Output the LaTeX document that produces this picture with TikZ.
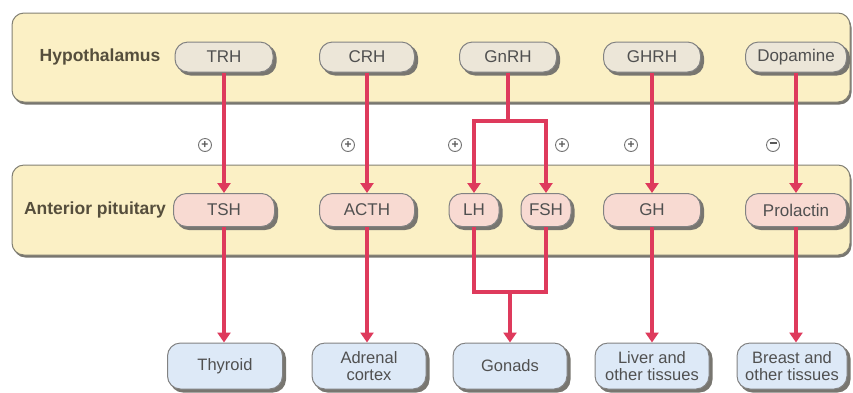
\documentclass[tikz,border=0pt]{standalone}
\usepackage{fontspec}
\setmainfont{Liberation Sans}
\usetikzlibrary{arrows.meta,calc}
\definecolor{bandfill}{RGB}{251,240,197}
\definecolor{bandline}{RGB}{130,128,115}
\definecolor{hypfill}{RGB}{236,230,216}
\definecolor{pitfill}{RGB}{248,218,210}
\definecolor{tgtfill}{RGB}{221,233,247}
\definecolor{boxline}{RGB}{130,130,130}
\definecolor{txt}{RGB}{80,80,80}
\definecolor{lbl}{RGB}{85,78,60}
\definecolor{arrowred}{RGB}{222,58,92}
\definecolor{shadowc}{RGB}{120,118,112}
\pgfdeclarelayer{bandlayer}
\pgfdeclarelayer{shadowlayer}
\pgfsetlayers{bandlayer,shadowlayer,main}
\begin{document}
\begin{tikzpicture}[x=1pt,y=-1pt,
  bandbox/.style={draw=bandline,line width=1pt,fill=bandfill,rounded corners=12pt},
  bandshadow/.style={fill=shadowc,rounded corners=12pt},
  pill/.style={draw=boxline,line width=1pt,rounded corners=13pt,text=txt,
    font=\fontsize{17}{18}\selectfont,inner sep=0pt,align=center},
  hyp/.style={pill,fill=hypfill,minimum height=30pt},
  pit/.style={pill,fill=pitfill,minimum height=33pt},
  tgt/.style={pill,fill=tgtfill,minimum height=46pt,font=\fontsize{16.5}{17.5}\selectfont},
  nodeshadow/.style={fill=shadowc,rounded corners=13pt},
  rowlabel/.style={text=lbl,font=\fontsize{17.5}{18}\selectfont\bfseries,inner sep=0pt},
  conn/.style={draw=arrowred,line width=4pt},
  arr/.style={conn,-{Triangle[width=13pt,length=10pt]}},
  sign/.style={circle,draw=black!55,line width=0.9pt,minimum size=13pt,inner sep=0pt,
    text=black!65,font=\fontsize{12}{12}\selectfont\bfseries}
]
\useasboundingbox (0,0) rectangle (853,392);

% bands
\begin{pgfonlayer}{bandlayer}
\path[bandshadow] (13.5,15.5) rectangle (851.5,104.5);
\path[bandbox] (12,13) rectangle (850,102);
\path[bandshadow] (13.5,167.5) rectangle (851.5,257.5);
\path[bandbox] (12,165) rectangle (850,255);
\end{pgfonlayer}

\node[rowlabel] (lhyp) at (100,57) {Hypothalamus};
\node[rowlabel] (lpit) at (95,210) {Anterior pituitary};

% hypothalamus nodes
\node[hyp,minimum width=98pt] (trh) at (224,57) {TRH};
\node[hyp,minimum width=95pt] (crh) at (367,57) {CRH};
\node[hyp,minimum width=97pt] (gnrh) at (508,57) {GnRH};
\node[hyp,minimum width=97pt] (ghrh) at (652,57) {GHRH};
\node[hyp,minimum width=101pt] (dop) at (796,57) {Dopamine};

% pituitary nodes
\node[pit,minimum width=101pt] (tsh) at (224,210) {TSH};
\node[pit,minimum width=95pt] (acth) at (367,210) {ACTH};
\node[pit,minimum width=50pt] (lh) at (474,210) {LH};
\node[pit,minimum width=50pt] (fsh) at (546,210) {FSH};
\node[pit,minimum width=97pt] (gh) at (652,210) {GH};
\node[pit,minimum width=101pt] (prl) at (796,210) {Prolactin};

% target nodes
\node[tgt,minimum width=115pt] (thy) at (225,366) {Thyroid};
\node[tgt,minimum width=114pt] (adr) at (369,366) {Adrenal\\cortex};
\node[tgt,minimum width=114pt] (gon) at (510,366) {Gonads};
\node[tgt,minimum width=114pt] (liv) at (652,366) {Liver and\\other tissues};
\node[tgt,minimum width=110pt] (bre) at (792,366) {Breast and\\other tissues};

% node shadows
\begin{pgfonlayer}{shadowlayer}
\foreach \n in {trh,crh,gnrh,ghrh,dop,tsh,acth,lh,fsh,gh,prl,thy,adr,gon,liv,bre}{
  \path[nodeshadow] ($(\n.north west)+(3,3)$) rectangle ($(\n.south east)+(3,3)$);
}
\end{pgfonlayer}

% signs
\node[sign] (s1) at (205,145) {+};
\node[sign] (s2) at (348,145) {+};
\node[sign] (s3) at (455,145) {+};
\node[sign] (s4) at (562,145) {+};
\node[sign] (s5) at (631,145) {+};
\node[sign] (s6) at (773,145) {\rule[3.6pt]{7pt}{1.5pt}};

% straight arrows hypothalamus -> pituitary
\draw[arr] (trh.south) -- (trh.south |- tsh.north);
\draw[arr] (crh.south) -- (crh.south |- acth.north);
\draw[arr] (ghrh.south) -- (ghrh.south |- gh.north);
\draw[arr] (dop.south) -- (dop.south |- prl.north);

% GnRH branch
\coordinate (gb) at (508,121);
\coordinate (gbl) at (lh.north |- gb);
\coordinate (gbr) at (fsh.north |- gb);
\draw[conn] (gnrh.south) -- (gb);
\draw[arr] (gb) -- (gbl) -- (lh.north);
\draw[arr] (gb) -- (gbr) -- (fsh.north);

% pituitary -> targets
\draw[arr] (tsh.south) -- (tsh.south |- thy.north);
\draw[arr] (acth.south) -- (acth.south |- adr.north);
\draw[arr] (gh.south) -- (gh.south |- liv.north);
\draw[arr] (prl.south) -- (prl.south |- bre.north);

% LH/FSH merge
\coordinate (mb) at (510,292);
\coordinate (mbl) at (lh.south |- mb);
\coordinate (mbr) at (fsh.south |- mb);
\draw[conn,line join=miter] (lh.south) -- (mbl) -- (mbr) -- (fsh.south);
\draw[arr] (mb) -- (gon.north);
\end{tikzpicture}
\end{document}
